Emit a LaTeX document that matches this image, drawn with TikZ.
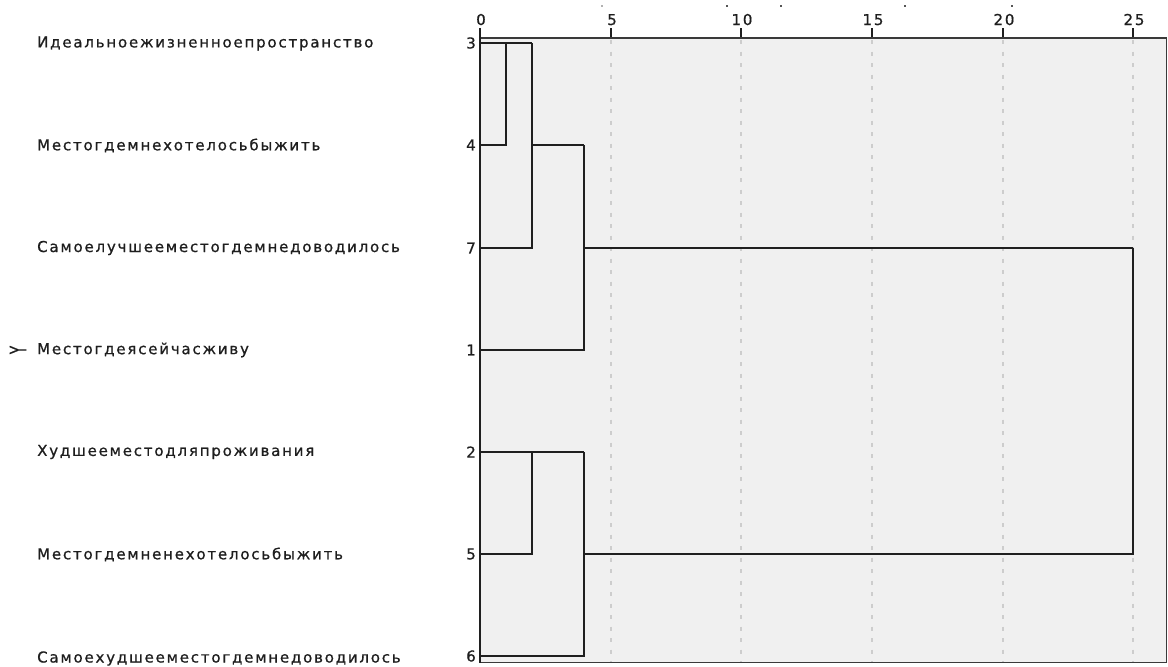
\documentclass[tikz,border=0pt]{standalone}
\usepackage{fontspec}
\setmainfont{DejaVu Sans}
\newfontfamily\labfont[LetterSpace=12,FakeBold=0.8]{DejaVu Sans}
\definecolor{plotbg}{HTML}{F0F0F0}
\definecolor{gridc}{HTML}{CDCDCD}
\definecolor{framec}{HTML}{3A3A3A}
\definecolor{textc}{HTML}{1E1E1E}
\definecolor{markc}{HTML}{555555}
\begin{document}
\begin{tikzpicture}[x=1pt,y=-1pt,
  lab/.style={font=\fontsize{15}{17}\labfont, text=textc, inner sep=0pt},
  leaflab/.style={lab, anchor=west},
  numlab/.style={lab, anchor=east},
  ticklab/.style={lab, anchor=base},
  den/.style={line width=2pt, draw=black!88},
  gridline/.style={draw=gridc, line width=1.5pt, dash pattern=on 4pt off 7.5pt},
  tickline/.style={draw=black!88, line width=2pt},
  framel/.style={draw=framec, line width=1.5pt}]
\useasboundingbox (0,0) rectangle (1168,667);
% plot area
\fill[plotbg] (480,38) rectangle (1167,663);
\foreach \k/\tx in {5/611,10/741,15/872,20/1003,25/1133} {
  \draw[gridline] (\tx,40) -- (\tx,662);
  \draw[tickline] (\tx,28) -- (\tx,38);
  \node[ticklab] (t\k) at (\tx+1,25) {\k};
}
\node[ticklab] (t0) at (481,25) {0};
\draw[framel] (480,38) -- (1166.5,38) -- (1166.5,662.5) -- (480,662.5);
\draw[line width=2pt, draw=black!88] (480,28) -- (480,663);
% small marks at the top edge
\foreach \mx/\mc in {602/black!30, 727/markc, 781/markc, 905/markc, 1012/markc}
  \fill[\mc] (\mx-1,5) rectangle (\mx+1,7);
% rows
\foreach \n/\y in {3/43,4/145,7/248,1/350,2/452,5/554,6/656} {
  \coordinate (l\n) at (480,\y);
  \coordinate (a\n) at (506,\y);
  \coordinate (b\n) at (532,\y);
  \coordinate (c\n) at (584,\y);
  \coordinate (d\n) at (1133,\y);
  \node[numlab] (n\n) at (476,\y) {\n};
}
\node[leaflab] (s3) at (37,43.5) {Идеальноежизненноепространство};
\node[leaflab] (s4) at (37,145.5) {Местогдемнехотелосьбыжить};
\node[leaflab] (s7) at (37,248) {Самоелучшееместогдемнедоводилось};
\node[leaflab] (s1) at (37,350) {Местогдеясейчасживу};
\node[leaflab] (s2) at (37,452) {Худшееместодляпроживания};
\node[leaflab] (s5) at (37,554.5) {Местогдемненехотелосьбыжить};
\node[leaflab] (s6) at (37,658.5) {Самоехудшееместогдемнедоводилось};
\node[lab, rotate=90, xscale=0.9, yscale=1.5] (ymark) at (18,350) {Y};
% dendrogram
\draw[den] (l4) -| (a3);
\draw[den] (l3) -- (b3);
\draw[den] (l7) -| (b3);
\draw[den] (b4) -- (c4);
\draw[den] (l1) -| (c4);
\draw[den] (c7) -- (d7);
\draw[den] (c5) -| (d7);
\draw[den] (l2) -- (c2);
\draw[den] (l5) -| (b2);
\draw[den] (l6) -| (c2);
\end{tikzpicture}
\end{document}
